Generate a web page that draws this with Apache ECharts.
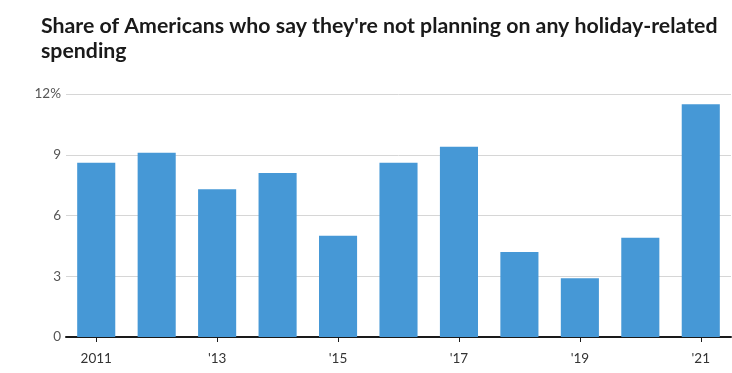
<!DOCTYPE html>
<html><head><meta charset="utf-8">
<script src="https://cdn.jsdelivr.net/npm/echarts@6/dist/echarts.min.js"></script>
<style>html,body{margin:0;padding:0;background:#fff}#c{width:732px;height:373px}</style>
</head><body><div id="c"></div>
<script>
const years = ['2011','2012','2013','2014','2015','2016','2017','2018','2019','2020','2021'];
const tickLabels = ['2011','','\'13','','\'15','','\'17','','\'19','','\'21'];
const values = [8.6, 9.1, 7.3, 8.1, 5.0, 8.6, 9.4, 4.2, 2.9, 4.9, 11.5];
const yTicks = [0, 3, 6, 9, 12];

const chart = echarts.init(document.getElementById('c'), null, {renderer:'canvas'});
chart.setOption({
  animation: false,
  title: {
    text: 'Share of Americans who say they\'re not planning on any holiday-related\nspending',
    left: 36, top: 9,
    textStyle: {fontFamily: 'Lato', fontWeight: 'bold', fontSize: 21.3, color: '#1a1a1a', lineHeight: 25}
  },
  grid: {left: 66, right: 1, top: 94, bottom: 36, containLabel: false},
  xAxis: {
    type: 'category', data: years,
    axisLine: {lineStyle: {color: '#1a1a1a', width: 2}},
    axisTick: {show: true, alignWithLabel: true, length: 5, interval: (i) => tickLabels[i] !== '', lineStyle: {color: '#1a1a1a', width: 1}},
    axisLabel: {interval: 0, formatter: (v, i) => tickLabels[i], color: '#333', fontFamily: 'Lato', fontSize: 13.5, margin: 15}
  },
  yAxis: {
    type: 'value', min: yTicks[0], max: yTicks[yTicks.length-1], interval: 3,
    axisLine: {show: false}, axisTick: {show: false},
    splitLine: {lineStyle: {color: '#d6d6d6', width: 1}},
    axisLabel: {formatter: (v) => v === 12 ? v + '%' : String(v), color: '#555', fontFamily: 'Lato', fontSize: 13.5, margin: 5}
  },
  series: [{
    type: 'bar', data: values, barCategoryGap: '37%',
    itemStyle: {color: '#4698d6'}
  }]
});
</script></body></html>
